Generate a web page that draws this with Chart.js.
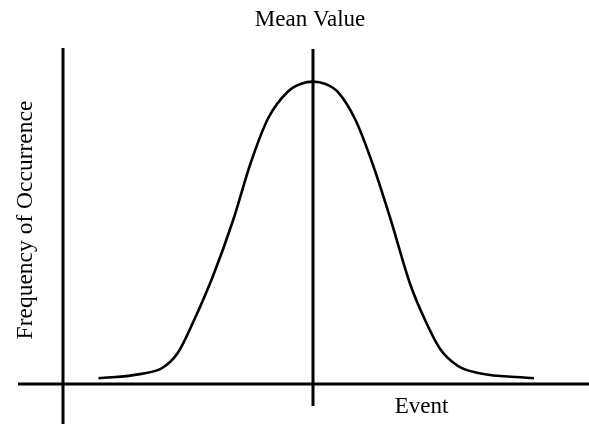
<!DOCTYPE html>
<html>
<head>
<meta charset="utf-8">
<script src="https://cdn.jsdelivr.net/npm/chart.js@4/dist/chart.umd.min.js"></script>
<style>
html,body{margin:0;padding:0;background:#fff;}
#wrap{width:589px;height:424px;}
</style>
</head>
<body>
<div id="wrap"><canvas id="c" width="589" height="424"></canvas></div>
<script>
// ---- data ----
const titleText = "Mean Value";
const xLabel = "Event";
const yLabel = "Frequency of Occurrence";

const meanValue = 0;
const yAxisAt = -5;

const curveX = [-4.29, -3.46, -3.0, -2.7, -2.4, -2.0, -1.6, -1.25, -0.9, -0.5, -0.25, 0,
                 0.25, 0.5, 0.85, 1.2, 1.55, 1.95, 2.25, 2.55, 2.9, 3.3, 4.42];
const curveY = [1.9, 3.3, 5.5, 10.5, 20.5, 36.0, 54.5, 73.5, 88.5, 97.5, 100.0, 100.8,
                100.0, 97.3, 88.0, 73.0, 55.0, 33.0, 21.0, 11.5, 6.0, 3.7, 1.9];

const xAxisLineX = [-5.9, 5.52];
const yAxisLineY = [-13.4, 112];
const meanLineY = [-7.33, 111.67];

// scale extents
const xMin = -6.26, xMax = 5.52;
const yMin = -13.33, yMax = 128;

// ---- build datasets ----
const curvePts = curveX.map((x, i) => ({x: x, y: curveY[i]}));
const xAxisPts = xAxisLineX.map(x => ({x: x, y: 0}));
const yAxisPts = yAxisLineY.map(y => ({x: yAxisAt, y: y}));
const meanPts = meanLineY.map(y => ({x: meanValue, y: y}));

const labelPlugin = {
  id: 'labels',
  afterDatasetsDraw(chart) {
    const ctx = chart.ctx;
    const xs = chart.scales.x, ys = chart.scales.y;
    const font = '23px "Liberation Serif", "Times New Roman", serif';
    ctx.save();
    ctx.fillStyle = '#000';
    ctx.font = font;
    ctx.textAlign = 'center';
    ctx.textBaseline = 'alphabetic';
    // title
    ctx.fillText(titleText, xs.getPixelForValue(meanValue) - 3, ys.getPixelForValue(yMax) + 26);
    // x label
    ctx.fillText(xLabel, xs.getPixelForValue(2.17), ys.getPixelForValue(0) + 29);
    // y label
    ctx.font = '23.5px "Liberation Serif", "Times New Roman", serif';
    ctx.translate(xs.getPixelForValue(xMin) + 32, ys.getPixelForValue(0) - 164);
    ctx.rotate(-Math.PI / 2);
    ctx.fillText(yLabel, 0, 0);
    ctx.restore();
  }
};

const lineStyle = {
  showLine: true, pointRadius: 0, borderColor: '#000', backgroundColor: '#000',
  fill: false, clip: false
};

new Chart(document.getElementById('c'), {
  type: 'scatter',
  data: {
    datasets: [
      Object.assign({label: 'x axis', data: xAxisPts, borderWidth: 3}, lineStyle),
      Object.assign({label: 'y axis', data: yAxisPts, borderWidth: 3}, lineStyle),
      Object.assign({label: 'mean', data: meanPts, borderWidth: 3}, lineStyle),
      Object.assign({label: 'curve', data: curvePts, borderWidth: 2.6, cubicInterpolationMode: 'monotone'}, lineStyle)
    ]
  },
  options: {
    responsive: false,
    animation: false,
    layout: {padding: 0},
    plugins: {legend: {display: false}, tooltip: {enabled: false}, title: {display: false}},
    scales: {
      x: {type: 'linear', min: xMin, max: xMax, display: false},
      y: {type: 'linear', min: yMin, max: yMax, display: false}
    }
  },
  plugins: [labelPlugin]
});
</script>
</body>
</html>
